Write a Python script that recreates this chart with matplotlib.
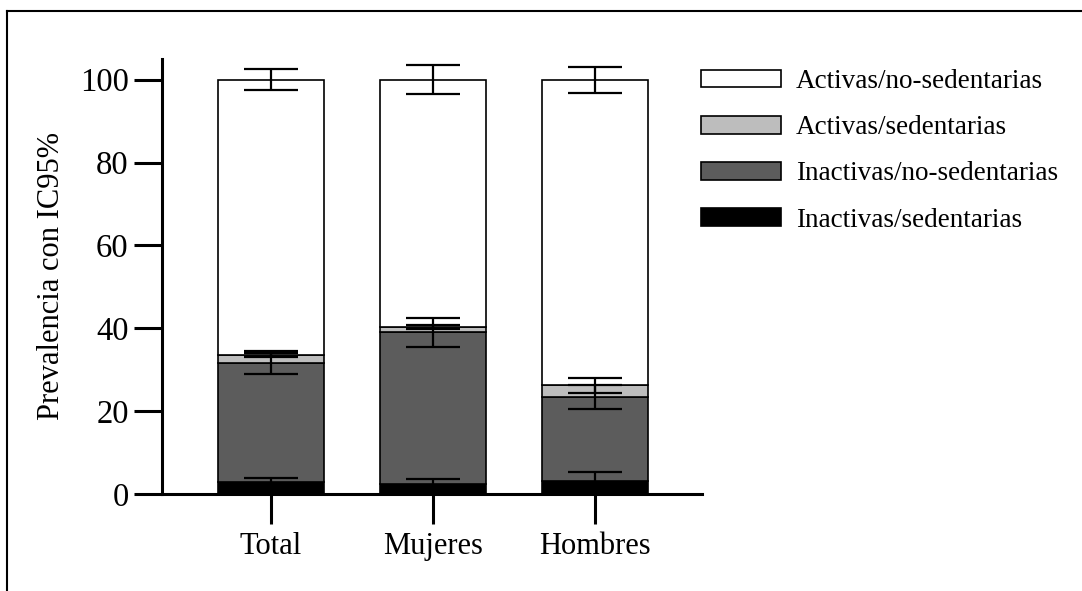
import numpy as np
import matplotlib
matplotlib.use("Agg")
import matplotlib.pyplot as plt
from matplotlib.lines import Line2D

plt.rcParams['font.family'] = ['Liberation Serif', 'DejaVu Serif']

groups = ['Total', 'Mujeres', 'Hombres']
series = ['Inactivas/sedentarias', 'Inactivas/no-sedentarias',
          'Activas/sedentarias', 'Activas/no-sedentarias']
colors = ['#000000', '#5c5c5c', '#bdbdbd', '#ffffff']

# segment heights (%) per group
inact_sed = [3.0, 2.3, 3.2]
inact_nosed = [28.7, 36.7, 20.2]
act_sed = [1.9, 1.4, 2.8]
act_nosed = [66.4, 59.6, 73.8]

# IC95% half-widths per segment
err_inact_sed = [0.8, 1.4, 2.0]
err_inact_nosed = [2.8, 3.4, 2.9]
err_act_sed = [0.5, 0.5, 1.7]
err_act_nosed = [2.5, 3.5, 3.1]

values = [inact_sed, inact_nosed, act_sed, act_nosed]
errors = [err_inact_sed, err_inact_nosed, err_act_sed, err_act_nosed]

fig = plt.figure(figsize=(10.82, 5.91), dpi=100)
ax = fig.add_axes([0.1497, 0.1641, 0.4991, 0.7361])

x = np.arange(len(groups))
bottom = np.zeros(len(groups))
handles = []
for name, vals, errs, col in zip(series, values, errors, colors):
    vals = np.array(vals)
    h = ax.bar(x, vals, width=0.655, bottom=bottom, color=col,
               edgecolor='black', linewidth=1.2, label=name, zorder=2)
    handles.append(h)
    ax.errorbar(x, bottom + vals, yerr=errs, fmt='none', ecolor='black',
                elinewidth=1.6, capsize=19.5, capthick=1.6, zorder=4)
    bottom = bottom + vals

ax.set_xlim(-0.673, 2.66)
ax.set_ylim(0, 105)
ax.set_yticks([0, 20, 40, 60, 80, 100])
ax.set_xticks(x)
ax.set_xticklabels(groups)
ax.set_ylabel('Prevalencia con IC95%', fontsize=22, labelpad=10)

for s in ['top', 'right']:
    ax.spines[s].set_visible(False)
for s in ['left', 'bottom']:
    ax.spines[s].set_linewidth(2.2)
ax.tick_params(axis='y', length=20, width=2.2, labelsize=23.5, pad=4)
ax.tick_params(axis='x', length=21.5, width=2.2, labelsize=22, pad=6)

ax.legend(handles[::-1], series[::-1], loc='upper left',
          bbox_to_anchor=(0.648, 0.883), bbox_transform=fig.transFigure,
          frameon=False, fontsize=19.5, handlelength=2.95, handleheight=0.62,
          handletextpad=0.55, labelspacing=0.78, borderpad=0, borderaxespad=0)

# frame lines along top and left of the image
fig.add_artist(Line2D([7 / 1082, 1], [1 - 11 / 591, 1 - 11 / 591],
                      color='black', linewidth=1.5, transform=fig.transFigure))
fig.add_artist(Line2D([7 / 1082, 7 / 1082], [0, 1 - 11 / 591],
                      color='black', linewidth=1.5, transform=fig.transFigure))

fig.savefig('out.png', dpi=100)
